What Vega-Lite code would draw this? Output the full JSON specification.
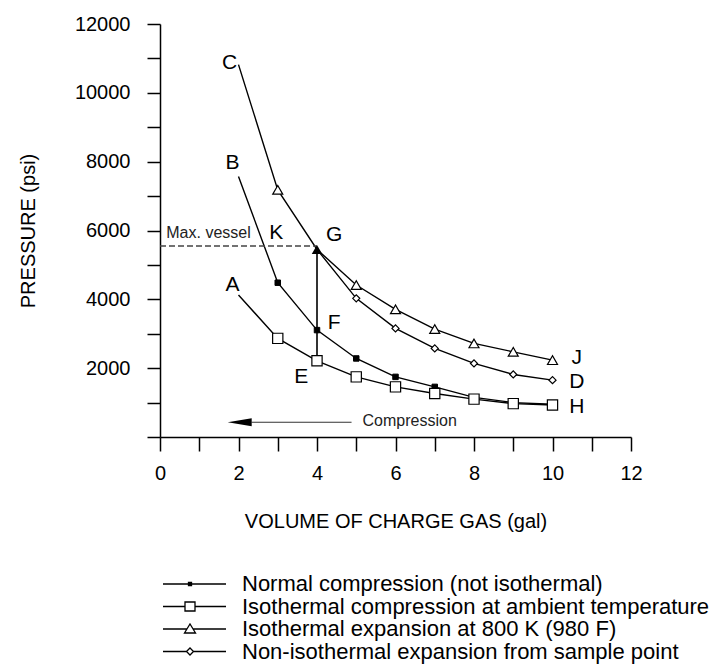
{
  "$schema": "https://vega.github.io/schema/vega-lite/v6.json",
  "width": 471,
  "height": 413,
  "autosize": {"type": "none"},
  "padding": {"left": 160, "top": 24, "right": 92, "bottom": 235},
  "background": "white",
  "config": {
    "view": {"stroke": null},
    "font": "Liberation Sans",
    "axis": {
      "domainColor": "black", "domainWidth": 1.5, "tickColor": "black", "tickWidth": 1.5,
      "labelColor": "black", "titleColor": "black", "labelFontSize": 20, "titleFontSize": 20,
      "titleFontWeight": "normal", "grid": false, "labelOverlap": false, "labelFlush": false
    }
  },
  "datasets": {
    "curves": [
      {"s": "Normal compression (not isothermal)", "x": 2, "y": 7570},
      {"s": "Normal compression (not isothermal)", "x": 3, "y": 4483},
      {"s": "Normal compression (not isothermal)", "x": 4, "y": 3106},
      {"s": "Normal compression (not isothermal)", "x": 5, "y": 2282},
      {"s": "Normal compression (not isothermal)", "x": 6, "y": 1747},
      {"s": "Normal compression (not isothermal)", "x": 7, "y": 1456},
      {"s": "Normal compression (not isothermal)", "x": 8, "y": 1150},
      {"s": "Normal compression (not isothermal)", "x": 9, "y": 1000},
      {"s": "Normal compression (not isothermal)", "x": 10, "y": 950},
      {"s": "Isothermal compression at ambient temperature", "x": 2, "y": 4125},
      {"s": "Isothermal compression at ambient temperature", "x": 3, "y": 2865},
      {"s": "Isothermal compression at ambient temperature", "x": 4, "y": 2213},
      {"s": "Isothermal compression at ambient temperature", "x": 5, "y": 1747},
      {"s": "Isothermal compression at ambient temperature", "x": 6, "y": 1456},
      {"s": "Isothermal compression at ambient temperature", "x": 7, "y": 1263},
      {"s": "Isothermal compression at ambient temperature", "x": 8, "y": 1100},
      {"s": "Isothermal compression at ambient temperature", "x": 9, "y": 970},
      {"s": "Isothermal compression at ambient temperature", "x": 10, "y": 930},
      {"s": "Isothermal expansion at 800 K (980 F)", "x": 2, "y": 10820},
      {"s": "Isothermal expansion at 800 K (980 F)", "x": 3, "y": 7180},
      {"s": "Isothermal expansion at 800 K (980 F)", "x": 4, "y": 5450},
      {"s": "Isothermal expansion at 800 K (980 F)", "x": 5, "y": 4416},
      {"s": "Isothermal expansion at 800 K (980 F)", "x": 6, "y": 3709},
      {"s": "Isothermal expansion at 800 K (980 F)", "x": 7, "y": 3135},
      {"s": "Isothermal expansion at 800 K (980 F)", "x": 8, "y": 2719},
      {"s": "Isothermal expansion at 800 K (980 F)", "x": 9, "y": 2475},
      {"s": "Isothermal expansion at 800 K (980 F)", "x": 10, "y": 2233},
      {"s": "Non-isothermal expansion from sample point", "x": 4, "y": 5450},
      {"s": "Non-isothermal expansion from sample point", "x": 5, "y": 4029},
      {"s": "Non-isothermal expansion from sample point", "x": 6, "y": 3156},
      {"s": "Non-isothermal expansion from sample point", "x": 7, "y": 2574},
      {"s": "Non-isothermal expansion from sample point", "x": 8, "y": 2137},
      {"s": "Non-isothermal expansion from sample point", "x": 9, "y": 1817},
      {"s": "Non-isothermal expansion from sample point", "x": 10, "y": 1651}
    ],
    "letters": [
      {"t": "C", "x": 1.77, "y": 10870},
      {"t": "B", "x": 1.85, "y": 7960},
      {"t": "A", "x": 1.85, "y": 4416},
      {"t": "K", "x": 2.96, "y": 5921},
      {"t": "G", "x": 4.44, "y": 5872},
      {"t": "F", "x": 4.44, "y": 3300},
      {"t": "E", "x": 3.6, "y": 1747},
      {"t": "J", "x": 10.62, "y": 2282},
      {"t": "D", "x": 10.62, "y": 1601},
      {"t": "H", "x": 10.62, "y": 873}
    ],
    "notes": [
      {"t": "Max. vessel", "x": 0.16, "y": 5921},
      {"t": "Compression", "x": 5.16, "y": 466}
    ]
  },
  "encoding": {
    "x": {
      "field": "x", "type": "quantitative",
      "scale": {"domain": [0, 12], "nice": false, "zero": false},
      "axis": {
        "title": "VOLUME  OF  CHARGE  GAS  (gal)",
        "values": [0, 1, 2, 3, 4, 5, 6, 7, 8, 9, 10, 11, 12],
        "labelExpr": "datum.value % 2 == 0 ? datum.label : ''",
        "tickSize": 14, "labelPadding": 12, "titlePadding": 28
      }
    },
    "y": {
      "field": "y", "type": "quantitative",
      "scale": {"domain": [0, 12000], "nice": false},
      "axis": {
        "title": "PRESSURE  (psi)",
        "format": "d",
        "values": [0, 1000, 2000, 3000, 4000, 5000, 6000, 7000, 8000, 9000, 10000, 11000, 12000],
        "labelExpr": "datum.value % 2000 == 0 && datum.value > 0 ? datum.label : ''",
        "tickSize": 13, "labelPadding": 17, "titlePadding": 36
      }
    }
  },
  "layer": [
    {
      "data": {"name": "curves"},
      "mark": {"type": "line", "stroke": "black", "strokeWidth": 1.4},
      "encoding": {"detail": {"field": "s"}}
    },
    {
      "data": {"values": [{"x": 4, "y": 2213, "y2": 5450}]},
      "mark": {"type": "rule", "stroke": "#333", "strokeWidth": 2},
      "encoding": {"y2": {"field": "y2"}}
    },
    {
      "data": {"values": [{"x": 0, "x2": 4, "y": 5550}]},
      "mark": {"type": "rule", "stroke": "#444", "strokeWidth": 1.5, "strokeDash": [6, 3]},
      "encoding": {"x2": {"field": "x2"}}
    },
    {
      "data": {"values": [{"x": 2.33, "x2": 4.88, "y": 428}]},
      "mark": {"type": "rule", "stroke": "#333", "strokeWidth": 1.2},
      "encoding": {"x2": {"field": "x2"}}
    },
    {
      "data": {"values": [{"x": 2.03, "y": 428}]},
      "mark": {"type": "point", "shape": "M-1,0L1,-0.33L1,0.33Z", "size": 576, "filled": true, "fill": "black", "opacity": 1}
    },
    {
      "data": {"name": "curves"},
      "transform": [{"filter": "datum.x >= 3 && datum.s == 'Normal compression (not isothermal)'"}],
      "mark": {"type": "point", "shape": "square", "size": 30, "filled": true, "fill": "black", "stroke": "black", "strokeWidth": 1, "opacity": 1}
    },
    {
      "data": {"name": "curves"},
      "transform": [{"filter": "datum.x >= 3 && datum.s == 'Isothermal compression at ambient temperature'"}],
      "mark": {"type": "point", "shape": "square", "size": 105, "fill": "white", "stroke": "black", "strokeWidth": 1.2, "opacity": 1}
    },
    {
      "data": {"name": "curves"},
      "transform": [{"filter": "datum.x != 4 && datum.x >= 3 && datum.s == 'Isothermal expansion at 800 K (980 F)'"}],
      "mark": {"type": "point", "shape": "triangle-up", "size": 100, "fill": "white", "stroke": "black", "strokeWidth": 1.2, "opacity": 1}
    },
    {
      "data": {"name": "curves"},
      "transform": [{"filter": "datum.x >= 5 && datum.s == 'Non-isothermal expansion from sample point'"}],
      "mark": {"type": "point", "shape": "diamond", "size": 50, "fill": "white", "stroke": "black", "strokeWidth": 1.2, "opacity": 1}
    },
    {
      "data": {"values": [{"x": 4, "y": 5450}]},
      "mark": {"type": "point", "shape": "triangle-up", "size": 110, "filled": true, "fill": "black", "opacity": 1}
    },
    {
      "data": {"name": "curves"},
      "transform": [{"filter": "datum.x == 10"}],
      "mark": {"type": "point", "opacity": 0, "size": 0},
      "encoding": {
        "shape": {
          "field": "s", "type": "nominal",
          "scale": {
            "domain": ["Normal compression (not isothermal)", "Isothermal compression at ambient temperature", "Isothermal expansion at 800 K (980 F)", "Non-isothermal expansion from sample point"],
            "range": [
              "M-3.15,0H3.15M-0.6,-0.15H-0.3V0.15H-0.6Z",
              "M-3.15,0H-0.95M0.05,0H3.15M-0.95,-0.45H0.05V0.45H-0.95Z",
              "M-3.15,0H-0.756M-0.144,0H3.15M-1,0.4L-0.45,-0.5L0.1,0.4Z",
              "M-3.15,0H-0.8M-0.1,0H3.15M-0.8,0L-0.45,-0.35L-0.1,0L-0.45,0.35Z"
            ]
          },
          "legend": {
            "title": null, "orient": "none", "legendX": 23.5, "legendY": 549,
            "symbolSize": 400, "symbolStrokeWidth": 1.3, "symbolFillColor": "white",
            "symbolStrokeColor": "black", "symbolOpacity": 1,
            "labelFontSize": 22, "labelOffset": 36.5,
            "rowPadding": 0.5, "padding": 0, "labelLimit": 700, "labelColor": "black"
          }
        }
      }
    },
    {
      "data": {"name": "letters"},
      "mark": {"type": "text", "fontSize": 21, "align": "center", "baseline": "middle", "color": "black"},
      "encoding": {"text": {"field": "t"}}
    },
    {
      "data": {"name": "notes"},
      "mark": {"type": "text", "fontSize": 16, "align": "left", "baseline": "middle", "color": "#222"},
      "encoding": {"text": {"field": "t"}}
    }
  ]
}
